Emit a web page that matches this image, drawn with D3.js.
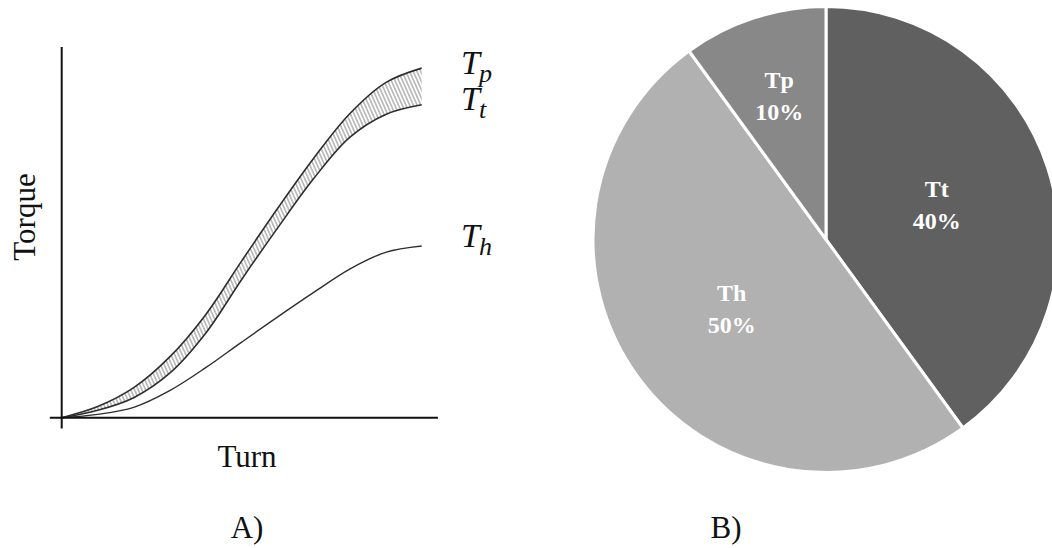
<!DOCTYPE html>
<html>
<head>
<meta charset="utf-8">
<script src="https://cdn.jsdelivr.net/npm/d3@7/dist/d3.min.js"></script>
<style>
  html, body { margin: 0; padding: 0; background: #fff; }
  svg { display: block; }
</style>
</head>
<body>
<svg id="chart" width="1052" height="548"></svg>
<script>
// Panel A: torque vs. turn curves (arbitrary units)
const turns = [0, 1, 2, 3, 4, 5, 6, 7, 8, 9, 10];
const torqueTp = [0, 3.0, 8.1, 16.4, 27.8, 42.3, 56.5, 70.0, 82.0, 90.4, 94.3];
const torqueTt = [0, 2.0, 5.4, 12.0, 22.8, 37.3, 51.2, 64.5, 75.6, 81.8, 84.4];
const torqueTh = [0, 0.9, 2.8, 7.3, 13.5, 20.4, 27.2, 33.8, 40.1, 44.6, 46.3];
const curveNames = ["p", "t", "h"];

// Panel B: torque share
const pieLabels = ["Tt", "Th", "Tp"];
const pieValues = [40, 50, 10];
const pieColors = ["#606060", "#b1b1b1", "#888888"];

const svg = d3.select("#chart");
const serif = "'Liberation Serif', 'Times New Roman', serif";

// hatch pattern for the band between Tp and Tt
const defs = svg.append("defs");
const pat = defs.append("pattern")
  .attr("id", "hatch")
  .attr("patternUnits", "userSpaceOnUse")
  .attr("width", 3.4).attr("height", 10)
  .attr("patternTransform", "rotate(-24)");
pat.append("line")
  .attr("x1", 1.7).attr("y1", -1).attr("x2", 1.7).attr("y2", 11)
  .attr("stroke", "#8a8a8a").attr("stroke-width", 1);

// ---------- Panel A ----------
const x = d3.scaleLinear().domain([0, 10]).range([61.7, 421.7]);
const y = d3.scaleLinear().domain([0, 100]).range([417.7, 47]);

const gA = svg.append("g");

const ptsTp = turns.map((t, i) => [t, torqueTp[i]]);
const ptsTt = turns.map((t, i) => [t, torqueTt[i]]);
const ptsTh = turns.map((t, i) => [t, torqueTh[i]]);

const smooth = d3.curveCatmullRom.alpha(0.5);

const band = d3.area()
  .x((d, i) => x(turns[i]))
  .y0((d, i) => y(torqueTt[i]))
  .y1((d, i) => y(torqueTp[i]))
  .curve(smooth);

gA.append("path")
  .datum(turns)
  .attr("d", band)
  .attr("fill", "url(#hatch)");

const line = d3.line()
  .x(d => x(d[0]))
  .y(d => y(d[1]))
  .curve(smooth);

[ptsTp, ptsTt, ptsTh].forEach((pts, k) => {
  gA.append("path")
    .datum(pts)
    .attr("d", line)
    .attr("fill", "none")
    .attr("stroke", "#2e2e2e")
    .attr("stroke-width", k < 2 ? 1.6 : 1.4);
});

// axes
gA.append("line")
  .attr("x1", x(0)).attr("x2", x(0))
  .attr("y1", y(100)).attr("y2", y(-2.9))
  .attr("stroke", "#111").attr("stroke-width", 2);
gA.append("line")
  .attr("x1", x(-0.33)).attr("x2", x(10.45))
  .attr("y1", y(0)).attr("y2", y(0))
  .attr("stroke", "#111").attr("stroke-width", 2);

// curve end labels  T_p, T_t, T_h
const endVals = [torqueTp[10], torqueTt[10], torqueTh[10]];
const labelShift = [6, 5, 1];
curveNames.forEach((s, k) => {
  const t = gA.append("text")
    .attr("x", 461)
    .attr("y", y(endVals[k]) + labelShift[k])
    .attr("font-family", serif)
    .attr("font-style", "italic")
    .attr("font-size", 34)
    .attr("fill", "#111");
  t.append("tspan").text("T");
  t.append("tspan").attr("dy", 8).attr("dx", -1).attr("font-size", 26).text(s);
});

gA.append("text")
  .attr("x", 247).attr("y", 467)
  .attr("text-anchor", "middle")
  .attr("font-family", serif).attr("font-size", 31).attr("fill", "#111")
  .text("Turn");

gA.append("text")
  .attr("transform", "translate(35,217) rotate(-90)")
  .attr("text-anchor", "middle")
  .attr("font-family", serif).attr("font-size", 31).attr("fill", "#111")
  .text("Torque");

gA.append("text")
  .attr("x", 247).attr("y", 538)
  .attr("text-anchor", "middle")
  .attr("font-family", serif).attr("font-size", 31).attr("fill", "#111")
  .text("A)");

// ---------- Panel B ----------
const cx = 826, cy = 239.5, R = 233;
const gB = svg.append("g").attr("transform", `translate(${cx},${cy})`);

const pie = d3.pie().sort(null).value(d => d)(pieValues);
const arc = d3.arc().innerRadius(0).outerRadius(R);

gB.selectAll("path.slice")
  .data(pie)
  .join("path")
  .attr("class", "slice")
  .attr("d", arc)
  .attr("fill", (d, i) => pieColors[i])
  .attr("stroke", "#fff")
  .attr("stroke-width", 3)
  .attr("stroke-linejoin", "round");

const total = d3.sum(pieValues);
pie.forEach((d, i) => {
  const share = d.value / total;
  const lr = R * (share < 0.15 ? 0.65 : 0.5);
  const la = d3.arc().innerRadius(lr).outerRadius(lr);
  const [lx, ly] = la.centroid(d);
  const t = gB.append("text")
    .attr("text-anchor", "middle")
    .attr("font-family", serif)
    .attr("font-weight", "bold")
    .attr("font-size", 24)
    .attr("fill", "#fff");
  t.append("tspan").attr("x", lx).attr("y", ly - 7).text(pieLabels[i]);
  t.append("tspan").attr("x", lx).attr("y", ly + 25).text(Math.round(share * 100) + "%");
});

svg.append("text")
  .attr("x", 726).attr("y", 538)
  .attr("text-anchor", "middle")
  .attr("font-family", serif).attr("font-size", 31).attr("fill", "#111")
  .text("B)");
</script>
</body>
</html>
